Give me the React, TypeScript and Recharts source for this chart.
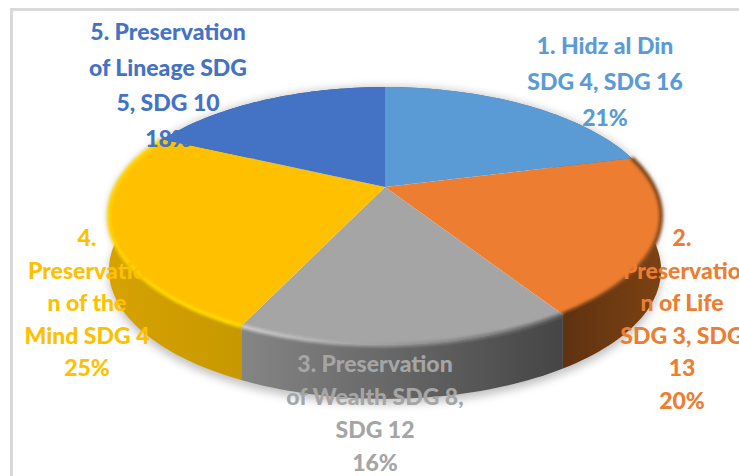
import { PieChart, Pie } from "recharts";

const categories = [
  "1. Hidz al Din SDG 4, SDG 16",
  "2. Preservation of Life SDG 3, SDG 13",
  "3. Preservation of Wealth SDG 8, SDG 12",
  "4. Preservation of the Mind SDG 4",
  "5. Preservation of Lineage SDG 5, SDG 10",
];
const shares = [21, 20, 16, 25, 18];
const labelLines = [
  ["1. Hidz al Din", "SDG 4, SDG 16", "21%"],
  ["2.", "Preservatio", "n of Life", "SDG 3, SDG", "13", "20%"],
  ["3. Preservation", "of Wealth SDG 8,", "SDG 12", "16%"],
  ["4.", "Preservatio", "n of the", "Mind SDG 4", "25%"],
  ["5. Preservation", "of Lineage SDG", "5, SDG 10", "18%"],
];

const colors = ["#5b9bd5", "#ed7d31", "#a5a5a5", "#ffc000", "#4472c4"];
const wallFrom = ["#3f6f9c", "#5f3210", "#858585", "#d6a200", "#2f5597"];
const wallTo = ["#3f6f9c", "#7c4213", "#454545", "#c79800", "#2f5597"];
const bevelFrom = ["none", "#5f3210", "#cfcfcf", "#ffd400", "none"];
const bevelTo = ["none", "#8a4c1c", "#5e5e5e", "#ffdc00", "none"];

// where each label sits in the picture: centre x, first line y, line step
const labelSpots = [
  { x: 605, y: 45, step: 36 },
  { x: 682, y: 237, step: 32.5 },
  { x: 375, y: 363, step: 33 },
  { x: 87, y: 237, step: 32.5 },
  { x: 168, y: 31, step: 35.5 },
];

const tableData = categories.map((name, i) => ({ name, value: shares[i] }));

// the tilted disc: recharts gives the angles, this turns them into screen points
const TILT = 0.455;
const PERSPECTIVE = 0.2248;
const DEPTH = 54;

function project(cx: number, cy: number, r: number, angle: number, drop = 0) {
  const rad = (angle * Math.PI) / 180;
  const x = Math.cos(rad);
  const y = -Math.sin(rad);
  const w = 1 - PERSPECTIVE * y;
  return [cx + (r * x) / w, cy + (r * TILT * y) / w + drop];
}

function arcPoints(p: any, drop = 0) {
  const pts: number[][] = [];
  const n = Math.max(2, Math.ceil(Math.abs(p.endAngle - p.startAngle) / 1.5));
  for (let i = 0; i <= n; i++) {
    const a = p.startAngle + ((p.endAngle - p.startAngle) * i) / n;
    pts.push(project(p.cx, p.cy, p.outerRadius, a, drop));
  }
  return pts;
}

const toPath = (pts: number[][]) =>
  pts.map((q, i) => `${i ? "L" : "M"}${q[0].toFixed(1)},${q[1].toFixed(1)}`).join(" ");

function wallPath(p: any, extra = 0) {
  const up = arcPoints(p);
  const down = arcPoints(p, DEPTH + extra).reverse();
  return toPath(up.concat(down)) + " Z";
}

function ShadowShape(props: any) {
  return <path d={wallPath(props, 5)} fill="#000" opacity={0.25} style={{ filter: "blur(5px)" }} />;
}

function WallShape(props: any) {
  const i = props.index;
  return (
    <g>
      <defs>
        <linearGradient id={`wall-${i}`}>
          <stop offset="0" stopColor={wallFrom[i]} />
          <stop offset="1" stopColor={wallTo[i]} />
        </linearGradient>
      </defs>
      <path d={wallPath(props)} fill={`url(#wall-${i})`} />
    </g>
  );
}

function TopShape(props: any) {
  const i = props.index;
  const rim = arcPoints(props);
  const d = `M${props.cx},${props.cy} ` + toPath(rim).replace("M", "L") + " Z";
  const hasBevel = bevelFrom[i] !== "none";
  return (
    <g>
      <defs>
        <linearGradient id={`bevel-${i}`}>
          <stop offset="0" stopColor={bevelFrom[i]} />
          <stop offset="1" stopColor={bevelTo[i]} />
        </linearGradient>
      </defs>
      <path d={d} fill={colors[i]} />
      {hasBevel && (
        <path
          d={toPath(rim)}
          fill="none"
          stroke={`url(#bevel-${i})`}
          strokeWidth={4}
          style={{ filter: "blur(1.5px)" }}
        />
      )}
    </g>
  );
}

function renderLabel(props: any) {
  const i = props.index;
  const spot = labelSpots[i];
  return (
    <g key={i}>
      {labelLines[i].map((line, n) => (
        <text
          key={n}
          x={spot.x}
          y={spot.y + n * spot.step}
          textAnchor="middle"
          dominantBaseline="central"
          fill={colors[i]}
          fontFamily="Lato, sans-serif"
          fontWeight={900}
          fontSize={23}
        >
          {line}
        </text>
      ))}
    </g>
  );
}

const pieProps = {
  data: tableData,
  dataKey: "value",
  nameKey: "name",
  cx: 385,
  cy: 187,
  innerRadius: 0,
  outerRadius: 269,
  startAngle: 90,
  endAngle: -270,
  stroke: "none",
  isAnimationActive: false,
};

export default function App() {
  return (
    <div style={{ position: "absolute", left: 0, top: 0, width: 739, height: 476, overflow: "hidden", background: "#fff" }}>
      <div
        style={{
          position: "absolute",
          left: 10,
          top: 8,
          width: 740,
          height: 480,
          borderLeft: "3px solid #d9d9d9",
          borderTop: "3px solid #d9d9d9",
        }}
      />
      <div style={{ position: "absolute", left: 0, top: 0 }}>
        <PieChart width={739} height={476} margin={{ top: 0, right: 0, bottom: 0, left: 0 }}>
          <Pie {...pieProps} shape={ShadowShape} />
          <Pie {...pieProps} shape={WallShape} />
          <Pie {...pieProps} shape={TopShape} label={renderLabel} labelLine={false} />
        </PieChart>
      </div>
    </div>
  );
}
